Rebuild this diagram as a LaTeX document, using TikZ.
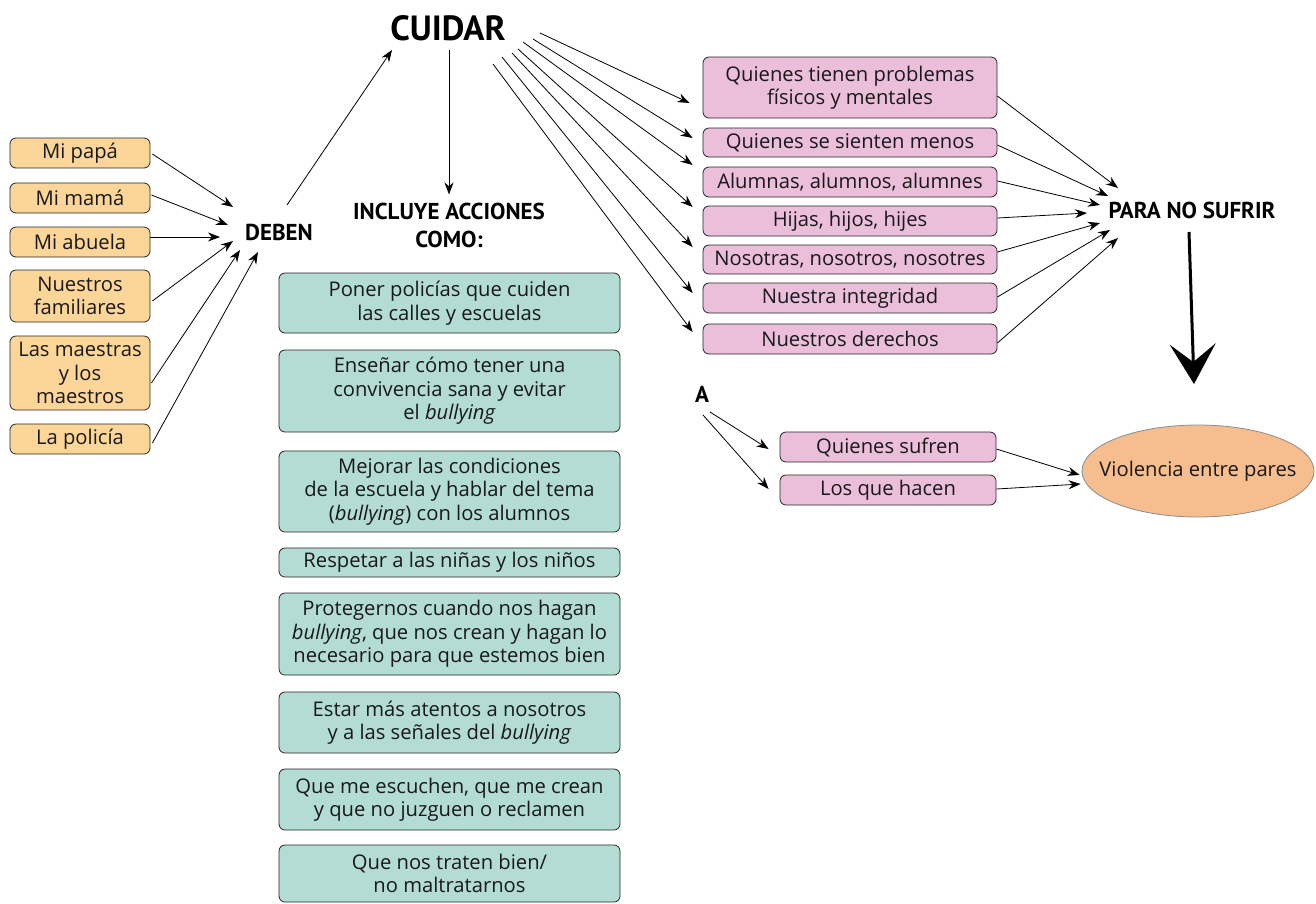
\documentclass[tikz,border=0pt]{standalone}
\usepackage{fontspec}
\setmainfont{Open Sans}
\newfontfamily\hdr{PT Sans}
\usetikzlibrary{arrows.meta,shapes.geometric}
\definecolor{orangebox}{HTML}{FCD598}
\definecolor{tealbox}{HTML}{B3DDD4}
\definecolor{pinkbox}{HTML}{EBBEDA}
\definecolor{peach}{HTML}{F6BD8F}
\begin{document}
\begin{tikzpicture}[x=1pt,y=-1pt,
 box/.style={draw=black!85, line width=0.8pt, rounded corners=6pt, align=center, inner sep=0pt, font=\fontsize{20.2}{23.5}\selectfont, text=black!90},
 obox/.style={box, fill=orangebox, minimum width=140pt},
 tbox/.style={box, fill=tealbox, minimum width=341pt},
 pbox/.style={box, fill=pinkbox, minimum width=294pt},
 qbox/.style={box, fill=pinkbox, minimum width=216pt},
 hlabel/.style={font=\hdr\bfseries\fontsize{23}{28}\selectfont, align=center, inner sep=0pt},
 arr/.style={-{Stealth[length=12pt,width=9pt]}, line width=0.8pt},
]
\useasboundingbox (0,0) rectangle (1316,903);

% left boxes
\node[obox, minimum height=30pt] (papa) at (80,153) {Mi papá};
\node[obox, minimum height=30pt] (mama) at (80,198) {Mi mamá};
\node[obox, minimum height=30pt] (abuela) at (80,242) {Mi abuela};
\node[obox, minimum height=52pt] (fam) at (80,296) {Nuestros\\familiares};
\node[obox, minimum height=74pt] (maes) at (80,373) {Las maestras\\y los\\maestros};
\node[obox, minimum height=30pt] (poli) at (80,439) {La policía};

% headings
\node[hlabel] (deben) at (279,232) {DEBEN};
\node[hlabel, font=\hdr\bfseries\fontsize{35}{38}\selectfont] (cuidar) at (448,28) {CUIDAR};
\node[hlabel] (incluye) at (449,225) {INCLUYE ACCIONES\\COMO:};
\node[hlabel] (pns) at (1192,210) {PARA NO SUFRIR};
\node[hlabel] (a) at (702,394) {A};

% teal boxes
\node[tbox, minimum height=60pt] (t1) at (449.5,303) {Poner policías que cuiden\\las calles y escuelas};
\node[tbox, minimum height=82pt] (t2) at (449.5,391) {Enseñar cómo tener una\\convivencia sana y evitar\\el \textit{bullying}};
\node[tbox, minimum height=81pt] (t3) at (449.5,491.5) {Mejorar las condiciones\\de la escuela y hablar del tema\\(\textit{bullying}) con los alumnos};
\node[tbox, minimum height=29pt] (t4) at (449.5,562.5) {Respetar a las niñas y los niños};
\node[tbox, minimum height=82pt] (t5) at (449.5,634) {Protegernos cuando nos hagan\\\textit{bullying}, que nos crean y hagan lo\\necesario para que estemos bien};
\node[tbox, minimum height=61pt] (t6) at (449.5,722.5) {Estar más atentos a nosotros\\y a las señales del \textit{bullying}};
\node[tbox, minimum height=61pt] (t7) at (449.5,799.5) {Que me escuchen, que me crean\\y que no juzguen o reclamen};
\node[tbox, minimum height=57pt] (t8) at (449.5,873.5) {Que nos traten bien/\\no maltratarnos};

% pink boxes
\node[pbox, minimum height=61pt] (p1) at (850,87.5) {Quienes tienen problemas\\físicos y mentales};
\node[pbox, minimum height=29pt] (p2) at (850,142.5) {Quienes se sienten menos};
\node[pbox, minimum height=30pt] (p3) at (850,182) {Alumnas, alumnos, alumnes};
\node[pbox, minimum height=30pt] (p4) at (850,221) {Hijas, hijos, hijes};
\node[pbox, minimum height=29pt] (p5) at (850,259.5) {Nosotras, nosotros, nosotres};
\node[pbox, minimum height=30pt] (p6) at (850,298) {Nuestra integridad};
\node[pbox, minimum height=30pt] (p7) at (850,339) {Nuestros derechos};

\node[qbox, minimum height=30pt] (q1) at (888,447) {Quienes sufren};
\node[qbox, minimum height=30pt] (q2) at (888,490) {Los que hacen};

\node[ellipse, draw=black!45, line width=0.8pt, fill=peach, minimum width=232pt, minimum height=92pt, inner sep=0pt] (vio) at (1198,471) {};
\node[font=\fontsize{20.2}{23.5}\selectfont, text=black!90, inner sep=0pt] (viotext) at (vio.center) {Violencia entre pares};

% coordinates for free ends
\coordinate (d1) at (233,207);
\coordinate (d2) at (228,225);
\coordinate (d3) at (220,237);
\coordinate (d4) at (233,241);
\coordinate (d5) at (240,250);
\coordinate (d6) at (258,252);

\draw[arr] ([xshift=2pt,yshift=-1pt]papa.east) -- (d1);
\draw[arr] ([xshift=1pt,yshift=3pt]mama.east) -- (d2);
\draw[arr] ([yshift=5pt]abuela.east) -- (d3);
\draw[arr] ([xshift=2pt,yshift=-5pt]fam.east) -- (d4);
\draw[arr] ([xshift=1pt,yshift=-10pt]maes.east) -- (d5);
\draw[arr] ([xshift=2pt,yshift=-4pt]poli.east) -- (d6);

\coordinate (dout) at (287,205);
\coordinate (cin) at (392,50);
\draw[arr] (dout) -- (cin);
\coordinate (cdown) at (449,50);
\draw[arr] (cdown) -- ([yshift=8pt]incluye.north -| cdown);

% CUIDAR to pink
\coordinate (c1) at (540,33);
\coordinate (c2) at (533,39);
\coordinate (c3) at (523,42);
\coordinate (c4) at (518,49);
\coordinate (c5) at (512,53);
\coordinate (c6) at (502,57);
\coordinate (c7) at (493,64);
\draw[arr] (c1) -- ([xshift=-13pt,yshift=-15.5pt]p1.west);
\draw[arr] (c2) -- ([xshift=-10pt,yshift=4.5pt]p2.west);
\draw[arr] (c3) -- ([xshift=-10pt,yshift=17pt]p3.west);
\draw[arr] (c4) -- ([xshift=-10pt,yshift=14pt]p4.west);
\draw[arr] (c5) -- ([xshift=-10pt,yshift=12.5pt]p5.west);
\draw[arr] (c6) -- ([xshift=-10pt,yshift=5pt]p6.west);
\draw[arr] (c7) -- ([xshift=-10pt,yshift=7pt]p7.west);

% pink to PARA NO SUFRIR
\coordinate (e1) at (1118,188);
\coordinate (e2) at (1108,196);
\coordinate (e3) at (1100,205);
\coordinate (e4) at (1087,213);
\coordinate (e5) at (1100,223);
\coordinate (e6) at (1110,230);
\coordinate (e7) at (1118,238);
\draw[arr] ([yshift=-8.5pt]p1.east) -- (e1);
\draw[arr] ([yshift=-2.5pt]p2.east) -- (e2);
\draw[arr] ([yshift=1pt]p3.east) -- (e3);
\draw[arr] ([yshift=3pt]p4.east) -- (e4);
\draw[arr] ([yshift=7.5pt]p5.east) -- (e5);
\draw[arr] ([yshift=1pt]p6.east) -- (e6);
\draw[arr] ([yshift=-4pt]p7.east) -- (e7);

% big arrow
\coordinate (bigs) at (1189,232);
\coordinate (bige) at (1194,384);
\draw[line width=3pt, -{Stealth[length=40pt,width=46pt,inset=18pt]}] (bigs) -- (bige);

% A arrows
\draw[arr] ([xshift=8pt,yshift=-18pt]a.center) -- ([xshift=-11pt,yshift=-2pt]q1.west);
\draw[arr] ([xshift=1pt,yshift=-21pt]a.center) -- ([xshift=-11pt,yshift=1pt]q2.west);

% to ellipse
\draw[arr] ([yshift=-2pt]q1.east) -- ([xshift=-2pt,yshift=-4pt]vio.west);
\draw[arr] ([yshift=1pt]q2.east) -- ([xshift=-1pt,yshift=-13pt]vio.west);
\end{tikzpicture}
\end{document}
